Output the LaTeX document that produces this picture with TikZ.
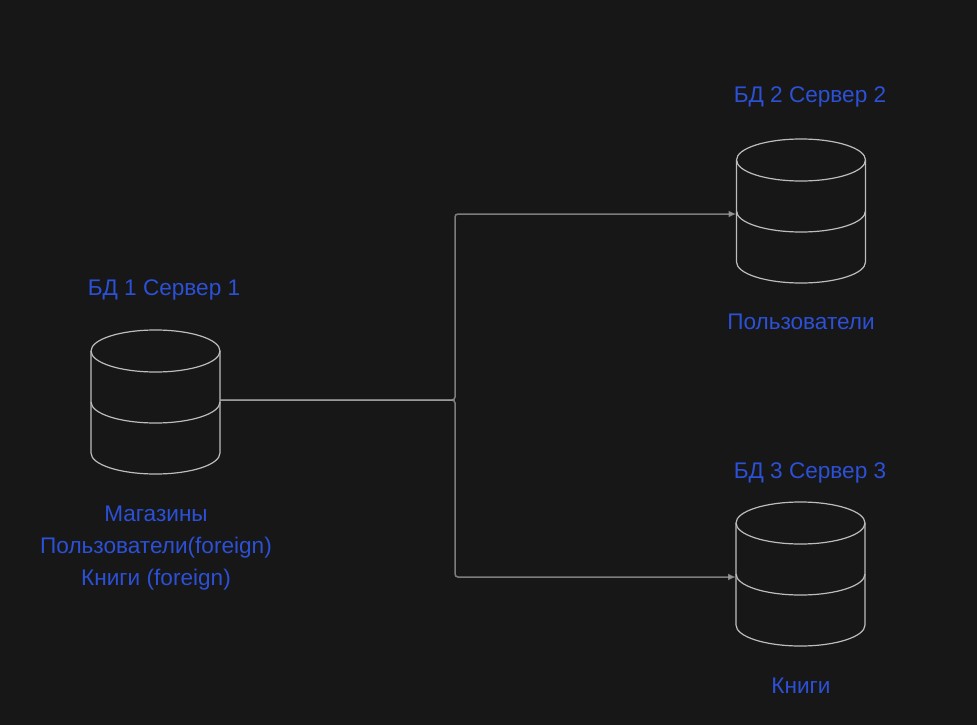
\documentclass[tikz,border=0pt]{standalone}
\usepackage{fontspec}
\setmainfont{Liberation Sans}
\usetikzlibrary{arrows.meta}
\definecolor{bgdark}{HTML}{171717}
\definecolor{dbline}{HTML}{BDBDBD}
\definecolor{connline}{HTML}{A8A8A8}
\definecolor{labelblue}{HTML}{2C50D6}
\tikzset{
  dbcyl/.pic={
    \draw[dbline,line width=1.2pt] (0,0) ellipse (64.5 and 21);
    \draw[dbline,line width=1.2pt] (-64.5,0) -- (-64.5,102) arc (180:0:64.5 and 21) -- (64.5,0);
    \draw[dbline,line width=1.2pt] (-64.5,51) arc (180:0:64.5 and 21);
    \coordinate (-in) at (-64.5,54);
    \coordinate (-out) at (64.5,49);
  },
  dblabel/.style={text=labelblue,font=\fontsize{22.6}{32}\selectfont,align=center,inner sep=0pt},
  conn/.style={connline,opacity=.7,line width=1.5pt,rounded corners=3pt,-{Latex[length=8pt,width=7pt]}}
}
\begin{document}
\begin{tikzpicture}[x=1pt,y=-1pt]
	\useasboundingbox[fill=bgdark] (0,0) rectangle (977,725);

	\pic (db1) at (155.5,351) {dbcyl};
	\pic (db2) at (801,160) {dbcyl};
	\pic (db3) at (800.5,523) {dbcyl};

	\node[dblabel] (title1) at (164,289.5) {БД 1 Сервер 1};
	\node[dblabel] (title2) at (810,96.5) {БД 2 Сервер 2};
	\node[dblabel] (title3) at (810,472.5) {БД 3 Сервер 3};

	\node[dblabel] (tables1) at (156,548) {Магазины\\Пользователи(foreign)\\Книги (foreign)};
	\node[dblabel] (tables2) at (801,322) {Пользователи};
	\node[dblabel] (tables3) at (801,685.5) {Книги};

	\coordinate (split) at (455,400);
	\draw[conn] (db1-out) -- (split) |- (db2-in);
	\draw[conn] (db1-out) -- (split) |- (db3-in);
\end{tikzpicture}
\end{document}
